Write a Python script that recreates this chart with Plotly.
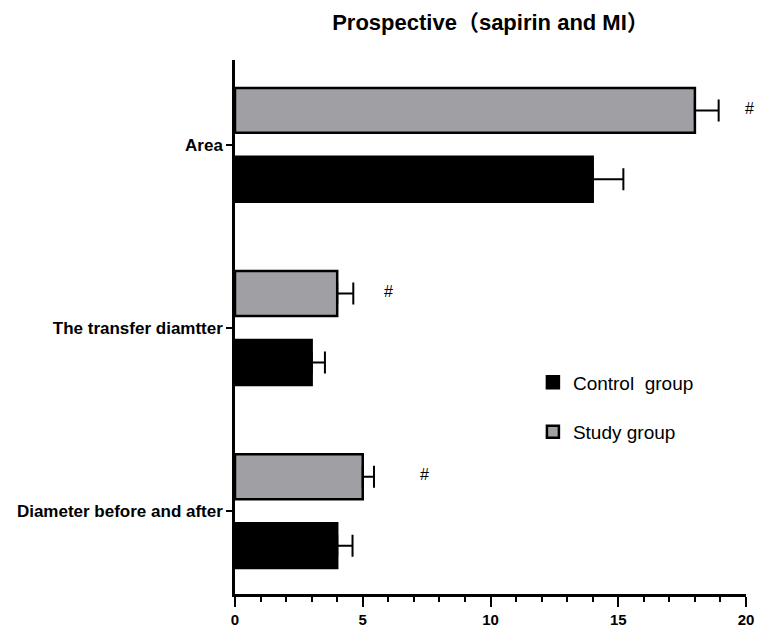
import plotly.graph_objects as go

categories = ["Area", "The transfer diamtter", "Diameter before and after"]
control_values = [14, 3, 4]
control_err = [1.2, 0.52, 0.6]
study_values = [18, 4, 5]
study_err = [0.93, 0.63, 0.44]
sig_marks = ["#", "#", "#"]
sig_x = [20.4, 5.75, 7.4]
x_ticks = [0, 5, 10, 15, 20]
x_max = 20

title_text = "Prospective\uff08sapirin and MI\uff09"
FONT = "Liberation Sans, Arial, Noto Sans CJK SC, sans-serif"

fig = go.Figure()
fig.add_trace(go.Bar(
    name="Control\u00a0 group", y=categories, x=control_values, orientation="h",
    marker=dict(color="#000000", line=dict(color="#000000", width=2.5)),
    error_x=dict(type="data", array=control_err, arrayminus=[0]*len(control_err),
                 symmetric=False, color="#000000", thickness=2, width=11),
    legendgroup="c",
))
fig.add_trace(go.Bar(
    name="Study group", y=categories, x=study_values, orientation="h",
    marker=dict(color="#a09fa4", line=dict(color="#000000", width=2.5)),
    error_x=dict(type="data", array=study_err, arrayminus=[0]*len(study_err),
                 symmetric=False, color="#000000", thickness=2, width=11),
    legendgroup="s",
))

order = list(reversed(categories))
for cat, mark, sx in zip(categories, sig_marks, sig_x):
    idx = order.index(cat)
    fig.add_annotation(x=sx / x_max, y=idx + 0.2, xref="paper", yref="y", text=mark,
                       showarrow=False, font=dict(family=FONT, size=16, color="#000"))

fig.update_layout(
    width=758, height=627,
    margin=dict(l=235, r=12, t=60, b=33),
    paper_bgcolor="white", plot_bgcolor="white",
    barmode="group", bargap=0.248, bargroupgap=0.348,
    title=dict(text="<b>" + title_text + "</b>", x=(235 + 746) / 2 / 758, xanchor="center",
               y=1 - 22 / 627, yanchor="middle",
               font=dict(family=FONT, size=22, color="#000")),
    legend=dict(x=0.583, y=0.432, xanchor="left", yanchor="top",
                traceorder="grouped", tracegroupgap=22,
                font=dict(family=FONT, size=19, color="#000"),
                bgcolor="rgba(0,0,0,0)"),
    xaxis=dict(range=[0, x_max], tickvals=x_ticks, ticktext=["<b>%d</b>" % v for v in x_ticks],
               automargin=False,
               showline=True, linecolor="#000", linewidth=2.5, showgrid=False, zeroline=False,
               ticks="outside", ticklen=10, tickwidth=2, tickcolor="#000",
               minor=dict(dtick=1, ticks="outside", ticklen=5, tickwidth=2, tickcolor="#000", showgrid=False),
               tickfont=dict(family=FONT, size=15, color="#000")),
    yaxis=dict(categoryorder="array", categoryarray=order, range=[-0.452, 2.463],
               automargin=False,
               tickvals=order, ticktext=["<b>%s</b>" % c for c in order],
               showline=True, linecolor="#000", linewidth=2.5, showgrid=False, zeroline=False,
               ticks="outside", ticklen=6, tickwidth=2, tickcolor="#000",
               tickfont=dict(family=FONT, size=17, color="#000")),
)

fig.write_html("out.html", config={"displayModeBar": False},
               post_script="document.body.style.margin='0';")
